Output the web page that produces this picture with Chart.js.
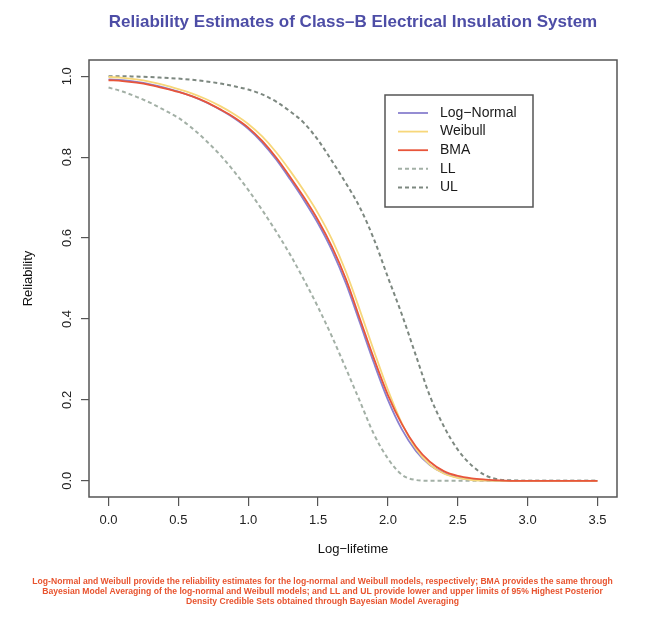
<!DOCTYPE html>
<html lang="en">
<head>
<meta charset="UTF-8" />
<title>Reliability Estimates of Class-B Electrical Insulation System</title>
<style>
  html, body { margin: 0; padding: 0; background: #fff; }
  .wrap { width: 645px; height: 619px; position: relative; }
</style>
</head>
<body>
<div class="wrap"><canvas id="chart"></canvas></div>
<script src="https://cdn.jsdelivr.net/npm/chart.js"></script>
<script>
// x step 0.1
const logLifetime = [0.0, 0.1, 0.2, 0.3, 0.4, 0.5, 0.6, 0.7, 0.8, 0.9, 1.0, 1.1, 1.2, 1.3, 1.4, 1.5, 1.6, 1.7,
  1.8, 1.9, 2.0, 2.1, 2.2, 2.3, 2.4, 2.5, 2.6, 2.7, 2.8, 2.9, 3.0, 3.1, 3.2, 3.3, 3.4, 3.5];
const logNormal = [0.992, 0.990, 0.986, 0.980, 0.972, 0.962, 0.950, 0.935, 0.917, 0.896, 0.870, 0.836, 0.794, 0.745,
  0.693, 0.636, 0.569, 0.487, 0.390, 0.291, 0.200, 0.127, 0.074, 0.039, 0.019, 0.008, 0.003, 0.001, 0, 0, 0, 0, 0, 0, 0, 0];
const weibull = [0.998, 0.996, 0.992, 0.986, 0.978, 0.968, 0.957, 0.943, 0.926, 0.906, 0.882, 0.851, 0.812, 0.766,
  0.716, 0.661, 0.596, 0.516, 0.421, 0.321, 0.225, 0.142, 0.080, 0.040, 0.018, 0.007, 0.002, 0.0005, 0, 0, 0, 0, 0, 0, 0, 0];
const bma = [0.990, 0.988, 0.984, 0.978, 0.970, 0.961, 0.950, 0.936, 0.918, 0.898, 0.873, 0.840, 0.799, 0.751,
  0.700, 0.644, 0.578, 0.498, 0.400, 0.302, 0.212, 0.140, 0.085, 0.047, 0.024, 0.012, 0.006, 0.003, 0.001, 0, 0, 0, 0, 0, 0, 0];
const lowerLimit = [0.972, 0.962, 0.949, 0.934, 0.916, 0.897, 0.871, 0.840, 0.805, 0.764, 0.719, 0.669, 0.616, 0.559,
  0.496, 0.429, 0.356, 0.277, 0.196, 0.115, 0.055, 0.015, 0.002, 0, 0, 0, 0, 0, 0, 0, 0, 0, 0, 0, 0, 0];
const upperLimit = [1.000, 1.000, 0.999, 0.998, 0.996, 0.994, 0.991, 0.987, 0.982, 0.975, 0.967, 0.955, 0.937, 0.913,
  0.884, 0.842, 0.790, 0.735, 0.675, 0.597, 0.503, 0.411, 0.310, 0.210, 0.135, 0.077, 0.038, 0.013, 0.003, 0.001, 0, 0, 0, 0, 0, 0];

const xTicks = [0, 0.5, 1.0, 1.5, 2.0, 2.5, 3.0, 3.5];
const yTicks = [0, 0.2, 0.4, 0.6, 0.8, 1.0];

const caption = [
  'Log-Normal and Weibull provide the reliability estimates for the log-normal and Weibull models, respectively; BMA provides the same through',
  'Bayesian Model Averaging of the log-normal and Weibull models; and LL and UL provide lower and upper limits of 95% Highest Posterior',
  'Density Credible Sets obtained through Bayesian Model Averaging'
];

const FONT = "'Liberation Sans', Arial, Helvetica, sans-serif";
const pts = arr => logLifetime.map((x, i) => ({ x: x, y: arr[i] }));

function series(label, arr, color, dash, order) {
  return {
    label: label, data: pts(arr), borderColor: color, backgroundColor: color,
    borderWidth: dash ? 2 : 1.8, borderDash: dash || [], pointRadius: 0,
    cubicInterpolationMode: 'monotone', fill: false, order: order
  };
}

// box round the plot + legend inside it (R style)
const boxAndLegend = {
  id: 'boxAndLegend',
  afterDatasetsDraw(chart) {
    const { ctx, chartArea: a } = chart;
    ctx.save();
    ctx.strokeStyle = '#555';
    ctx.lineWidth = 1.5;
    ctx.strokeRect(a.left, a.top, a.right - a.left, a.bottom - a.top);

    const lx = a.left + 296, ly = a.top + 35;
    ctx.strokeRect(lx, ly, 148, 112);
    ctx.font = '14px ' + FONT;
    ctx.textBaseline = 'middle';
    ctx.fillStyle = '#1a1a1a';
    chart.data.datasets.forEach((ds, i) => {
      const y = ly + 18 + i * 18.6;
      ctx.beginPath();
      ctx.strokeStyle = ds.borderColor;
      ctx.lineWidth = ds.borderWidth;
      ctx.setLineDash(ds.borderDash);
      ctx.moveTo(lx + 13, y);
      ctx.lineTo(lx + 43, y);
      ctx.stroke();
      ctx.setLineDash([]);
      ctx.fillText(ds.label, lx + 55, y);
    });
    ctx.restore();
  }
};

new Chart(document.getElementById('chart'), {
  type: 'line',
  data: {
    datasets: [
      series('Log\u2212Normal', logNormal, '#8a80cf', null, 2),
      series('Weibull', weibull, '#f7d77a', null, 1),
      series('BMA', bma, '#e8553a', null, 0),
      series('LL', lowerLimit, '#a3b0a6', [4, 3], 3),
      series('UL', upperLimit, '#7d8880', [4, 3], 3)
    ]
  },
  options: {
    responsive: true,
    maintainAspectRatio: false,
    animation: false,
    layout: { padding: 0 },
    plugins: {
      legend: { display: false },
      tooltip: { enabled: false },
      title: {
        display: true,
        text: 'Reliability Estimates of Class\u2013B Electrical Insulation System',
        color: '#4d4da6',
        font: { family: FONT, size: 17, weight: 'bold', lineHeight: 1.2 },
        padding: { top: 12, bottom: 27.6 },
        fullSize: false
      },
      subtitle: {
        display: true,
        position: 'bottom',
        text: caption,
        color: '#e8542f',
        font: { family: FONT, size: 8.6, weight: 'bold', lineHeight: 1.163 },
        padding: { top: 0, bottom: 12 }
      }
    },
    scales: {
      x: {
        type: 'linear',
        min: -0.14,
        max: 3.64,
        afterBuildTicks: s => { s.ticks = xTicks.map(v => ({ value: v })); },
        afterFit: s => { s.height = 80; },
        ticks: {
          callback: v => v.toFixed(1),
          color: '#222',
          font: { family: FONT, size: 13 },
          padding: 7,
          maxRotation: 0,
          autoSkip: false
        },
        grid: { drawOnChartArea: false, tickLength: 9, color: '#555', lineWidth: 1.2 },
        border: { display: false },
        title: {
          display: true,
          text: 'Log\u2212lifetime',
          color: '#111',
          font: { family: FONT, size: 13 },
          padding: { top: 0, bottom: 20 }
        }
      },
      y: {
        type: 'linear',
        min: -0.04,
        max: 1.04,
        afterBuildTicks: s => { s.ticks = yTicks.map(v => ({ value: v })); },
        afterFit: s => { s.width = 89; },
        ticks: {
          callback: v => v.toFixed(1),
          color: '#222',
          font: { family: FONT, size: 13 },
          minRotation: 90,
          maxRotation: 90,
          crossAlign: 'center',
          padding: 5
        },
        grid: { drawOnChartArea: false, tickLength: 8, color: '#555', lineWidth: 1.2 },
        border: { display: false },
        title: {
          display: true,
          text: 'Reliability',
          color: '#111',
          font: { family: FONT, size: 13 },
          padding: { top: 21, bottom: 0 }
        }
      },
      yRight: {
        type: 'linear',
        position: 'right',
        display: true,
        afterFit: s => { s.width = 28; },
        ticks: { display: false },
        grid: { display: false },
        border: { display: false }
      }
    }
  },
  plugins: [boxAndLegend]
});
</script>
</body>
</html>
